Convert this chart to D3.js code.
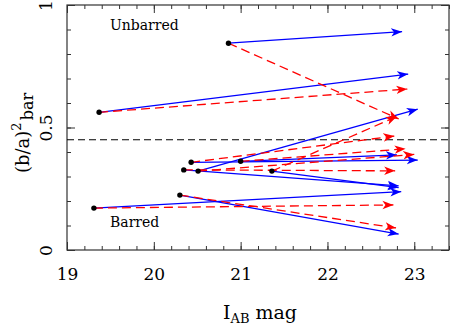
<!DOCTYPE html>
<html>
<head>
<meta charset="utf-8">
<script src="https://cdn.jsdelivr.net/npm/d3@7"></script>
<style>
  body { margin: 0; background: #fff; }
  text { font-family: "DejaVu Serif", serif; fill: #000; }
</style>
</head>
<body>
<svg id="chart" width="458" height="327"></svg>
<script>
// starting points (black dots)
var startMag = [20.86, 19.37, 20.43, 21.00, 20.345, 20.51, 21.36, 20.30, 19.31];
var startBa = [0.844, 0.562, 0.358, 0.362, 0.327, 0.322, 0.322, 0.224, 0.171];
// blue solid arrows (end points)
var blueMag = [22.86, 22.93, 23.04, 22.80, 22.82, 23.04, 22.82, 22.82, 22.85];
var blueBa = [0.891, 0.718, 0.367, 0.388, 0.262, 0.575, 0.255, 0.065, 0.238];
// red dashed arrows (end points)
var redMag = [22.82, 22.92, 22.77, 22.90, 22.78, 23.00, 22.80, 22.79, 22.76];
var redBa = [0.535, 0.657, 0.465, 0.413, 0.323, 0.390, 0.545, 0.090, 0.184];

var xTicks = [19, 20, 21, 22, 23];
var yTicks = [0, 0.5, 1];
var divider = 0.45;

var svg = d3.select("#chart"),
  margin = { top: 5, right: 9, bottom: 77, left: 67 },
  width = +svg.attr("width"),
  height = +svg.attr("height");

var x = d3.scaleLinear()
  .domain([19, 23.4])
  .range([margin.left, width - margin.right]);

var y = d3.scaleLinear()
  .domain([0, 1])
  .range([height - margin.bottom, margin.top]);

var x0 = x.range()[0], x1 = x.range()[1],
  y0 = y.range()[0], y1 = y.range()[1];

// arrow heads
var defs = svg.append("defs");
[["blueHead", "#0000ff"], ["redHead", "#ff0000"]].forEach(function (m) {
  defs.append("marker")
    .attr("id", m[0])
    .attr("markerUnits", "userSpaceOnUse")
    .attr("viewBox", "-11 -5 12 10")
    .attr("refX", 0).attr("refY", 0)
    .attr("markerWidth", 12).attr("markerHeight", 10)
    .attr("orient", "auto")
    .append("path")
    .attr("d", "M0,0 L-11,-4.2 L-8,0 L-11,4.2 Z")
    .style("fill", m[1]);
});

// axes: ticks inside on all four sides
var minorX = d3.range(19, 23.41, 0.2), minorY = d3.range(0, 1.001, 0.1);
var tickColor = "#333";

svg.append("g").attr("class", "x-axis")
  .attr("transform", "translate(0," + y0 + ")")
  .call(d3.axisBottom(x).tickValues(minorX).tickSize(-4).tickFormat(""))
  .call(g => g.select(".domain").remove());
svg.append("g").attr("class", "x-axis")
  .attr("transform", "translate(0," + y0 + ")")
  .call(d3.axisBottom(x).tickValues(xTicks).tickSize(-8).tickPadding(18).tickFormat(d3.format("d")))
  .call(g => g.select(".domain").remove());
svg.append("g")
  .attr("transform", "translate(0," + y1 + ")")
  .call(d3.axisTop(x).tickValues(minorX).tickSize(-4).tickFormat(""))
  .call(g => g.select(".domain").remove());
svg.append("g")
  .attr("transform", "translate(0," + y1 + ")")
  .call(d3.axisTop(x).tickValues(xTicks).tickSize(-8).tickFormat(""))
  .call(g => g.select(".domain").remove());

svg.append("g")
  .attr("transform", "translate(" + x0 + ",0)")
  .call(d3.axisLeft(y).tickValues(minorY).tickSize(-4).tickFormat(""))
  .call(g => g.select(".domain").remove());
var yAxis = svg.append("g").attr("class", "y-axis")
  .attr("transform", "translate(" + x0 + ",0)")
  .call(d3.axisLeft(y).tickValues(yTicks).tickSize(-8).tickFormat(d3.format("")))
  .call(g => g.select(".domain").remove());
svg.append("g")
  .attr("transform", "translate(" + x1 + ",0)")
  .call(d3.axisRight(y).tickValues(minorY).tickSize(-4).tickFormat(""))
  .call(g => g.select(".domain").remove());
svg.append("g")
  .attr("transform", "translate(" + x1 + ",0)")
  .call(d3.axisRight(y).tickValues(yTicks).tickSize(-8).tickFormat(""))
  .call(g => g.select(".domain").remove());

svg.selectAll(".tick line").style("stroke", tickColor).style("stroke-width", 1);
svg.selectAll(".x-axis text").style("font-size", "17px").style("font-family", "DejaVu Serif");
// rotated y tick labels
yAxis.selectAll("text")
  .style("font-size", "17px").style("font-family", "DejaVu Serif")
  .attr("text-anchor", "middle")
  .attr("x", null).attr("dy", null)
  .attr("transform", "translate(-15,0) rotate(-90)");

// frame
svg.append("rect")
  .attr("x", x0).attr("y", y1)
  .attr("width", x1 - x0).attr("height", y0 - y1)
  .style("fill", "none").style("stroke", tickColor).style("stroke-width", 1.2);

// barred / unbarred divider
svg.append("line")
  .attr("x1", x0).attr("x2", x1)
  .attr("y1", y(divider)).attr("y2", y(divider))
  .style("stroke", "#000").style("stroke-width", 1.2)
  .style("stroke-dasharray", "7,4");

var idx = d3.range(startMag.length);

svg.selectAll(".blueArrow").data(idx).enter().append("line")
  .attr("class", "blueArrow")
  .attr("x1", i => x(startMag[i])).attr("y1", i => y(startBa[i]))
  .attr("x2", i => x(blueMag[i])).attr("y2", i => y(blueBa[i]))
  .style("stroke", "#0000ff").style("stroke-width", 1.3)
  .attr("marker-end", "url(#blueHead)");

svg.selectAll(".redArrow").data(idx).enter().append("line")
  .attr("class", "redArrow")
  .attr("x1", i => x(startMag[i])).attr("y1", i => y(startBa[i]))
  .attr("x2", i => x(redMag[i])).attr("y2", i => y(redBa[i]))
  .style("stroke", "#ff0000").style("stroke-width", 1.3)
  .style("stroke-dasharray", "9,5")
  .attr("marker-end", "url(#redHead)");

svg.selectAll(".dot").data(idx).enter().append("circle")
  .attr("class", "dot")
  .attr("cx", i => x(startMag[i])).attr("cy", i => y(startBa[i]))
  .attr("r", 2.7)
  .style("fill", "#000");

// labels
svg.append("text").attr("x", 110).attr("y", 30).text("Unbarred").style("font-size", "14px");
svg.append("text").attr("x", 110).attr("y", 227).text("Barred").style("font-size", "14px");

var xl = svg.append("text")
  .attr("x", 223).attr("y", 319)
  .style("font-size", "19px");
xl.append("tspan").text("I");
xl.append("tspan").attr("dy", 4).style("font-size", "13px").text("AB");
xl.append("tspan").attr("dy", -4).text(" mag");

var yl = svg.append("text")
  .attr("transform", "translate(29,173) rotate(-90)")
  .style("font-size", "18px");
yl.append("tspan").text("(b/a)");
yl.append("tspan").attr("dy", -8).style("font-size", "13px").text("2");
yl.append("tspan").attr("dy", 12).attr("dx", 2).style("font-size", "16px").text("bar");
</script>
</body>
</html>
